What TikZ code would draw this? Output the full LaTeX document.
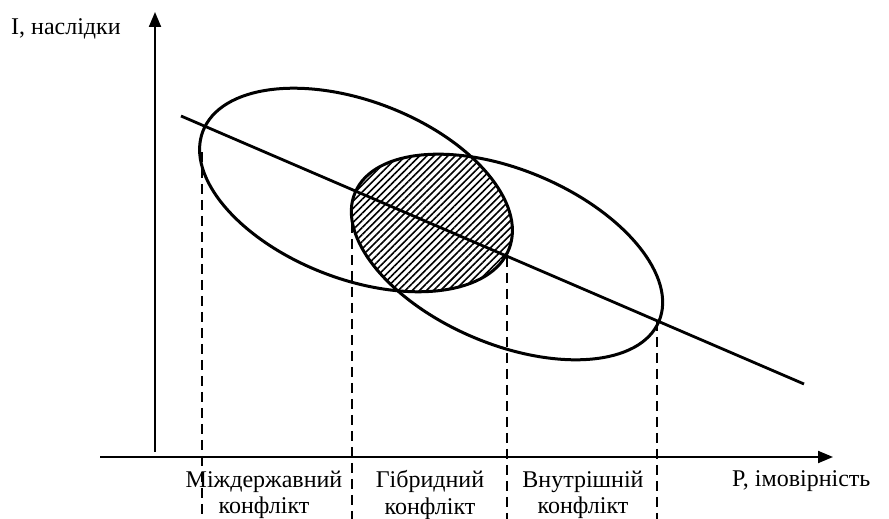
\documentclass[tikz,border=0pt]{standalone}
\usepackage{fontspec}
\setmainfont{Liberation Serif}
\usetikzlibrary{arrows.meta,patterns.meta}
\begin{document}
\begin{tikzpicture}[x=1pt,y=1pt,font=\fontsize{24}{26.5}\selectfont,axis/.style={line width=2pt,-{Triangle[length=15pt,width=12pt]}},oval/.style={line width=3pt},drop/.style={line width=1.6pt,dash pattern=on 10pt off 6pt},lbl/.style={align=center,anchor=north,inner sep=0pt}]
\useasboundingbox (0,0) rectangle (889,519);
\coordinate (o1) at (356,329);\coordinate (o2) at (507,262);
\begin{scope}
\clip[rotate around={-21:(o1)}] (o1) ellipse[x radius=164,y radius=89];
\clip[rotate around={-23:(o2)}] (o2) ellipse[x radius=165,y radius=87];
\fill[pattern={Lines[angle=45,distance=5pt,line width=1.6pt]}] (300,180) rectangle (560,420);
\end{scope}
\coordinate (ya) at (155,67);\coordinate (yb) at (155,507);
\coordinate (xa) at (100,62);\coordinate (xb) at (833,62);
\draw[axis](ya)--(yb);\draw[axis](xa)--(xb);
\draw[oval,rotate around={-21:(o1)}] (o1) ellipse[x radius=164,y radius=89];
\draw[oval,rotate around={-23:(o2)}] (o2) ellipse[x radius=165,y radius=87];
\coordinate (la) at (181,403);\coordinate (lb) at (804,135);
\draw[line width=2.8pt](la)--(lb);
\coordinate (d1) at (202,367);\coordinate (d2) at (352,312);\coordinate (d3) at (507,262);\coordinate (d4) at (657,198);
\foreach \p in {d1,d2,d3,d4}\draw[drop](\p)--(\p|-0,0);
\node[anchor=base west,inner sep=0pt](yl) at (11,484){I, наслідки};
\node[anchor=base west,inner sep=0pt](xl) at (732,32){P, імовірність};
\node[lbl](n1) at (264,48.5){Міждержавний\\конфлікт};
\node[lbl](n2) at (430,48.5){Гібридний\\конфлікт};
\node[lbl](n3) at (583,48.5){Внутрішній\\конфлікт};
\end{tikzpicture}
\end{document}
